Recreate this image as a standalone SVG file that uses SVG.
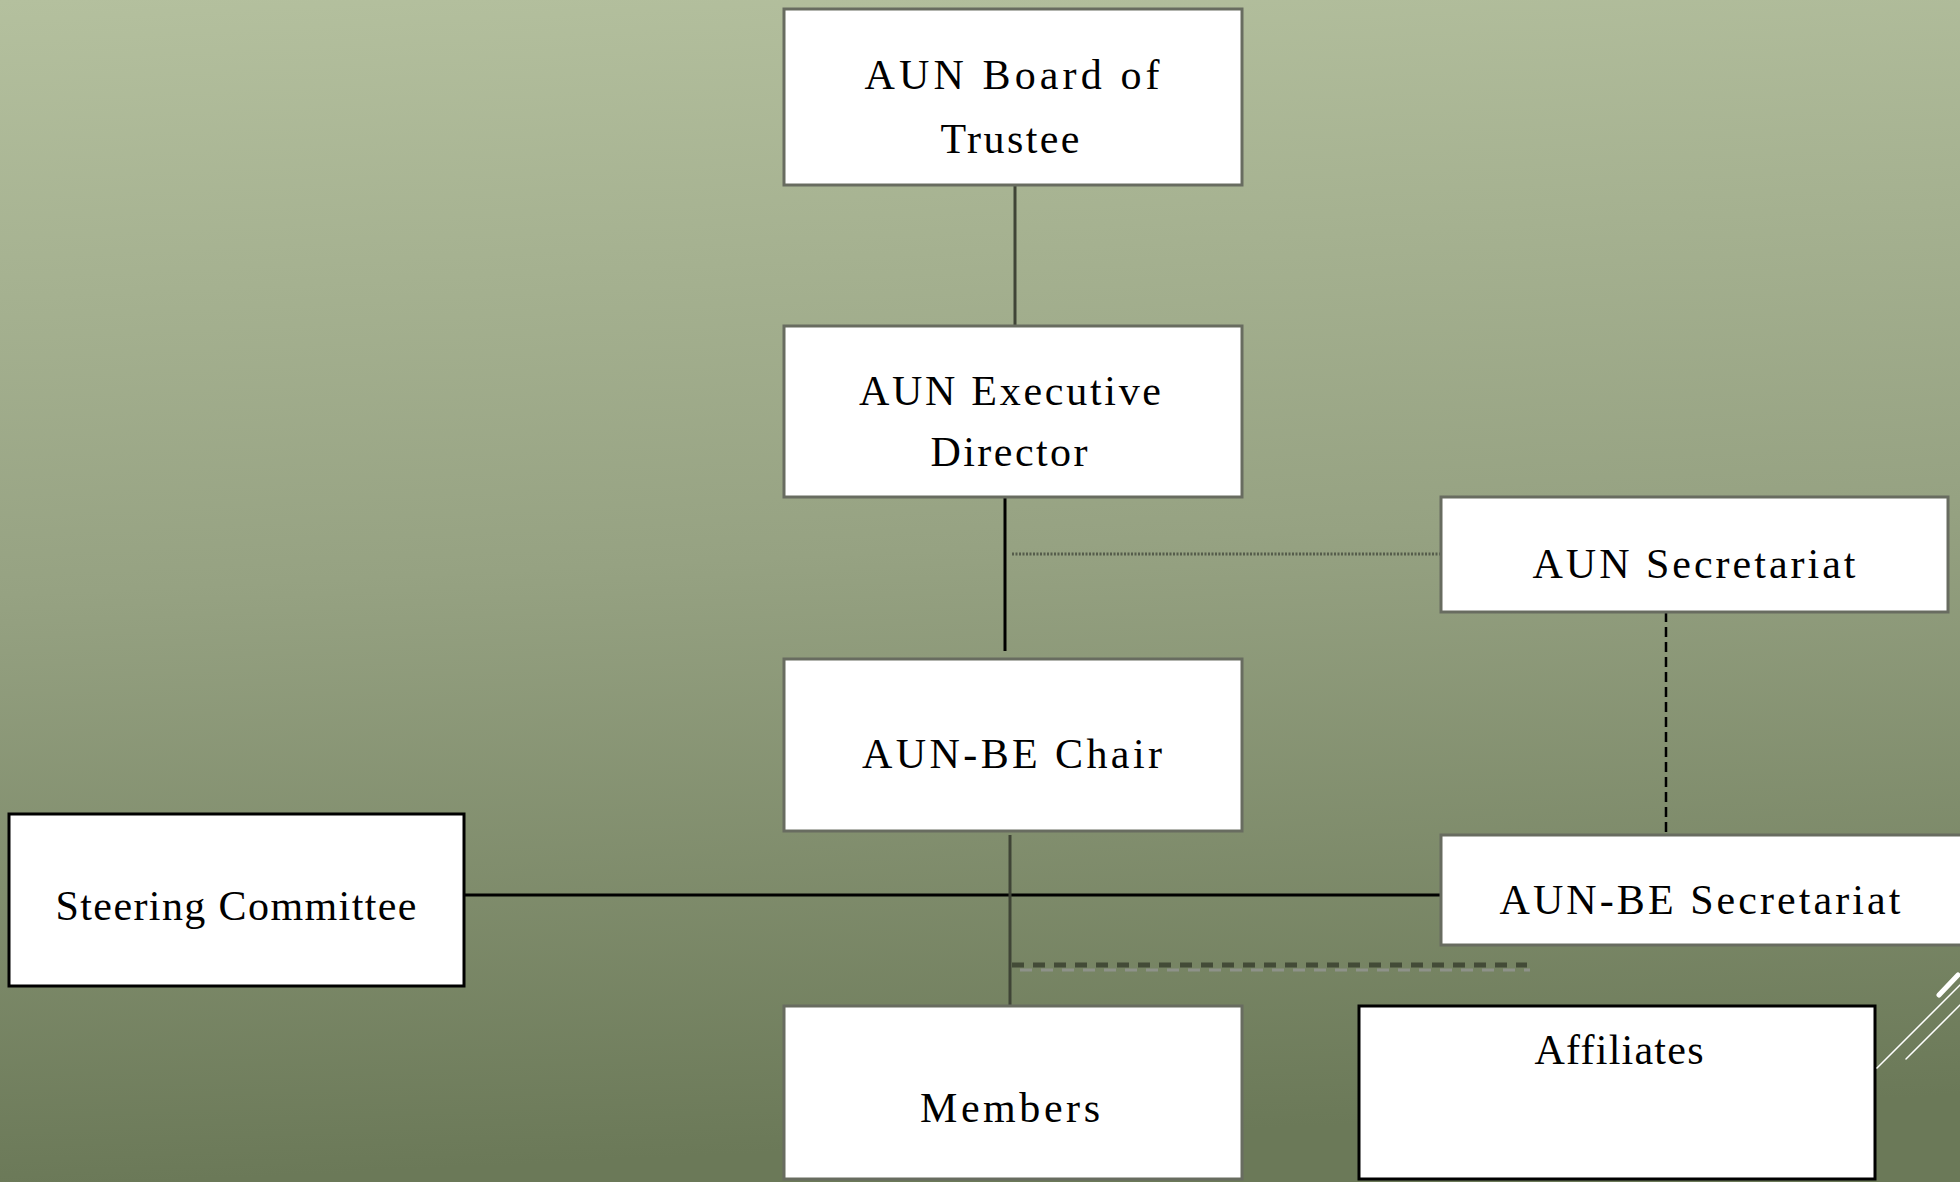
<svg xmlns="http://www.w3.org/2000/svg" width="1960" height="1182" viewBox="0 0 1960 1182">
<defs>
<linearGradient id="bg" x1="0" y1="0" x2="0.08" y2="1">
<stop offset="0" stop-color="#b4c09e"/>
<stop offset="0.5" stop-color="#96a282"/>
<stop offset="1" stop-color="#6b7958"/>
</linearGradient>
<style>
.box{fill:#fff;stroke:#686c60;stroke-width:3}
.boxk{fill:#fff;stroke:#000;stroke-width:3}
.t{font-family:'Liberation Serif','DejaVu Serif',serif;font-size:42px;fill:#000;text-anchor:middle}
.solid{stroke:#000;stroke-width:3;fill:none}
.solidg{stroke:#3f4436;stroke-width:3;fill:none}
</style>
</defs>
<rect width="1960" height="1182" fill="url(#bg)"/>
<g id="connectors">
<line class="solidg" x1="1015" y1="185" x2="1015" y2="326"/>
<line class="solid" x1="1005" y1="497" x2="1005" y2="651"/>
<line x1="1012" y1="554" x2="1441" y2="554" stroke="#555c4b" stroke-width="3" stroke-dasharray="2 1.5"/>
<line x1="1666" y1="612" x2="1666" y2="833" stroke="#000" stroke-width="2.5" stroke-dasharray="10 5"/>
<line class="solid" x1="464" y1="895" x2="1441" y2="895"/>
<line class="solidg" x1="1010" y1="835" x2="1010" y2="1006"/>
<line x1="1020" y1="970" x2="1530" y2="970" stroke="#8e9289" stroke-width="3" stroke-dasharray="12 9"/>
<line x1="1012" y1="965" x2="1527" y2="965" stroke="#434b37" stroke-width="5" stroke-dasharray="12 9"/>
</g>
<g id="board">
<rect class="box" x="784" y="9" width="458" height="176"/>
<text class="t" x="1012" y="89" textLength="295" lengthAdjust="spacing">AUN Board of</text>
<text class="t" x="1010" y="153" textLength="139" lengthAdjust="spacing">Trustee</text>
</g>
<g id="exec">
<rect class="box" x="784" y="326" width="458" height="171"/>
<text class="t" x="1010" y="405" textLength="302" lengthAdjust="spacing">AUN Executive</text>
<text class="t" x="1009" y="466" textLength="157" lengthAdjust="spacing">Director</text>
</g>
<g id="aun-secretariat">
<rect class="box" x="1441" y="497" width="507" height="115"/>
<text class="t" x="1694" y="578" textLength="323" lengthAdjust="spacing">AUN Secretariat</text>
</g>
<g id="chair">
<rect class="box" x="784" y="659" width="458" height="172"/>
<text class="t" x="1012" y="768" textLength="300" lengthAdjust="spacing">AUN-BE Chair</text>
</g>
<g id="steering">
<rect class="boxk" x="9" y="814" width="455" height="172"/>
<text class="t" x="236" y="920" textLength="361" lengthAdjust="spacing">Steering Committee</text>
</g>
<g id="aunbe-secretariat">
<rect class="box" x="1441" y="835" width="530" height="110"/>
<text class="t" x="1700" y="914" textLength="401" lengthAdjust="spacing">AUN-BE Secretariat</text>
</g>
<g id="members">
<rect class="box" x="784" y="1006" width="458" height="173"/>
<text class="t" x="1010" y="1122" textLength="180" lengthAdjust="spacing">Members</text>
</g>
<g id="affiliates">
<rect class="boxk" x="1359" y="1006" width="516" height="173"/>
<text class="t" x="1619" y="1064" textLength="169" lengthAdjust="spacing">Affiliates</text>
</g>
<g id="decor" stroke="#fff" fill="none" stroke-linecap="round">
<line x1="1877" y1="1068" x2="1962" y2="983" stroke-width="1.5"/>
<line x1="1906" y1="1059" x2="1962" y2="1003" stroke-width="1.5"/>
<line x1="1939" y1="995" x2="1958" y2="975" stroke-width="5"/>
</g>
</svg>
